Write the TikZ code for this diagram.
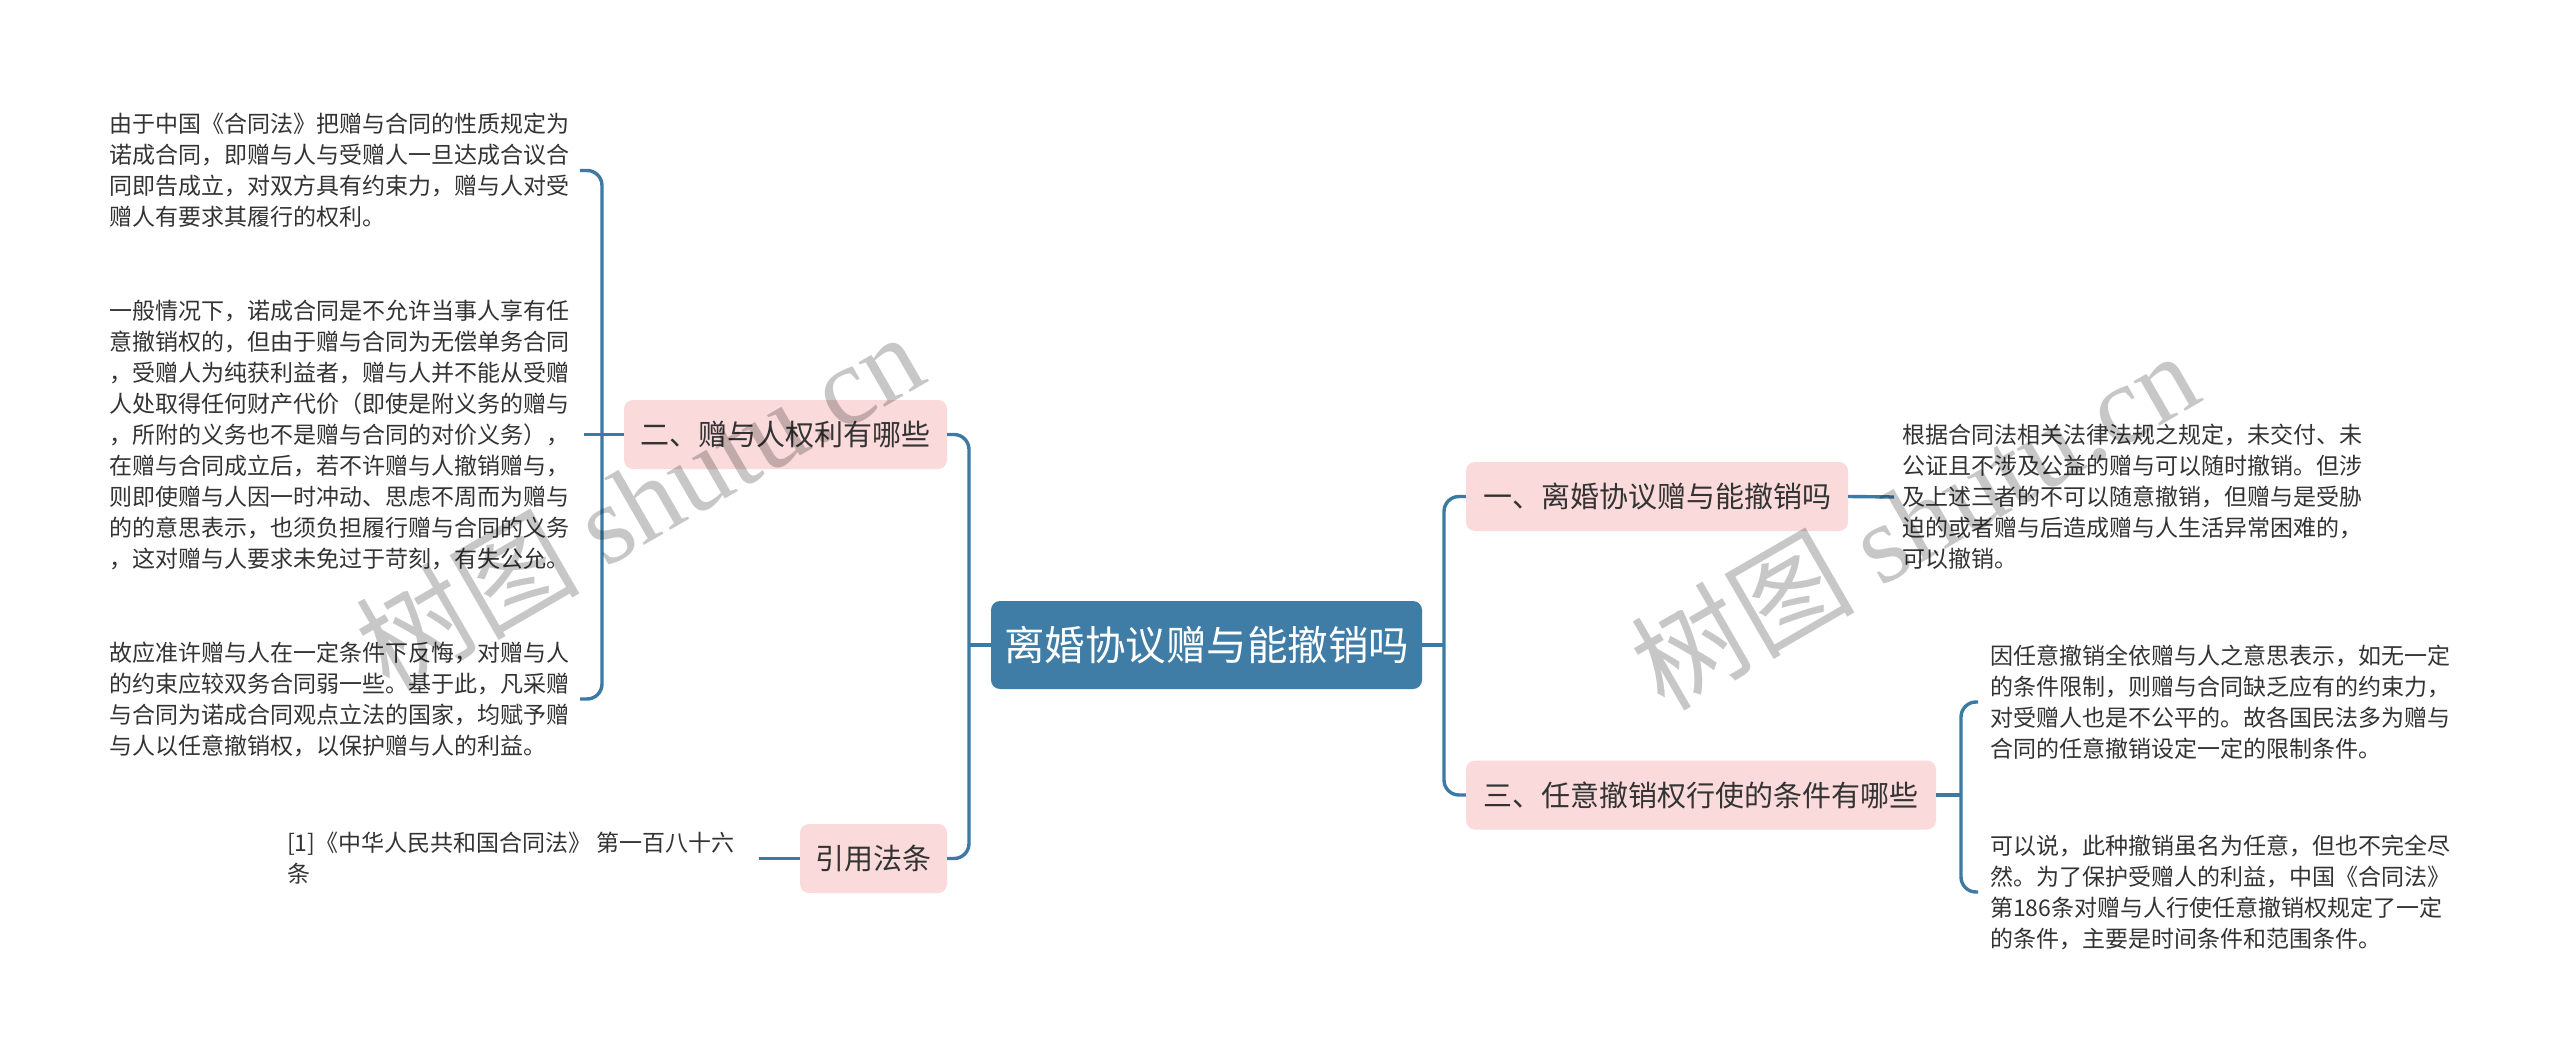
\documentclass[tikz,border=0pt]{standalone}
\usepackage{fontspec}
\setmainfont{Noto Sans CJK SC}
\newfontfamily\wmserif{Liberation Serif}
\definecolor{connc}{HTML}{3C7AA3}
\definecolor{rootc}{HTML}{3F7DA6}
\definecolor{branchc}{HTML}{FADADA}
\definecolor{txtc}{HTML}{333333}
\begin{document}
\begin{tikzpicture}[x=1pt,y=-1pt,
  rootbox/.style={fill=rootc, rounded corners=9pt, text=white, minimum height=88pt, minimum width=431pt, inner xsep=8pt, inner ysep=0pt, font=\fontsize{40.5}{48}\selectfont},
  branchbox/.style={fill=branchc, rounded corners=9pt, text=txtc, minimum height=69pt, inner xsep=10pt, inner ysep=0pt, font=\fontsize{29}{34}\selectfont},
  leaftext/.style={text=txtc, align=left, inner sep=0pt, anchor=west, font=\fontsize{23}{31}\selectfont},
  conn/.style={draw=connc, line width=3.4pt, rounded corners=15pt},
  wm/.style={text=black, text opacity=0.22, inner sep=0pt, font=\fontsize{112}{120}\selectfont}
]
\useasboundingbox[fill=white] (0,0) rectangle (2560,1059);

% central
\node[rootbox] (c) at (1206.5,645) {离婚协议赠与能撤销吗};

% branches
\node[branchbox, minimum width=323pt] (b2) at (785.5,434.5) {二、赠与人权利有哪些};
\node[branchbox, minimum width=147pt] (ref) at (873.5,858.5) {引用法条};
\node[branchbox, minimum width=382pt] (b1) at (1657,496.5) {一、离婚协议赠与能撤销吗};
\node[branchbox, minimum width=470pt] (b3) at (1701,795) {三、任意撤销权行使的条件有哪些};

% left leaves
\node[leaftext] (l1) at (109,170.5) {由于中国《合同法》把赠与合同的性质规定为\\诺成合同，即赠与人与受赠人一旦达成合议合\\同即告成立，对双方具有约束力，赠与人对受\\赠人有要求其履行的权利。};
\node[leaftext] (l2) at (109,434.5) {一般情况下，诺成合同是不允许当事人享有任\\意撤销权的，但由于赠与合同为无偿单务合同\\，受赠人为纯获利益者，赠与人并不能从受赠\\人处取得任何财产代价（即使是附义务的赠与\\，所附的义务也不是赠与合同的对价义务），\\在赠与合同成立后，若不许赠与人撤销赠与，\\则即使赠与人因一时冲动、思虑不周而为赠与\\的的意思表示，也须负担履行赠与合同的义务\\，这对赠与人要求未免过于苛刻，有失公允。};
\node[leaftext] (l3) at (109,699) {故应准许赠与人在一定条件下反悔，对赠与人\\的约束应较双务合同弱一些。基于此，凡采赠\\与合同为诺成合同观点立法的国家，均赋予赠\\与人以任意撤销权，以保护赠与人的利益。};
\node[leaftext] (lr) at (287,858.5) {[1]《中华人民共和国合同法》 第一百八十六\\条};

% right leaves
\node[leaftext] (t1) at (1902,497) {根据合同法相关法律法规之规定，未交付、未\\公证且不涉及公益的赠与可以随时撤销。但涉\\及上述三者的不可以随意撤销，但赠与是受胁\\迫的或者赠与后造成赠与人生活异常困难的，\\可以撤销。};
\node[leaftext] (t3a) at (1990,702) {因任意撤销全依赠与人之意思表示，如无一定\\的条件限制，则赠与合同缺乏应有的约束力，\\对受赠人也是不公平的。故各国民法多为赠与\\合同的任意撤销设定一定的限制条件。};
\node[leaftext] (t3b) at (1990,892) {可以说，此种撤销虽名为任意，但也不完全尽\\然。为了保护受赠人的利益，中国《合同法》\\第186条对赠与人行使任意撤销权规定了一定\\的条件，主要是时间条件和范围条件。};

% junction coordinates
\coordinate (lj) at (969,645);
\coordinate (rj) at (1444,645);
\coordinate (bj) at (602,434.5);
\coordinate (tj) at (1961,795);
\coordinate (e1) at (580,170.5);
\coordinate (e2) at (584,434.5);
\coordinate (e3) at (580,699);
\coordinate (er) at (759,858.5);
\coordinate (f1) at (1894,497);
\coordinate (f3a) at (1978,702);
\coordinate (f3b) at (1978,892);

% connectors
\draw[conn] (b2.east) -| (lj) |- (ref.east);
\draw[conn] (c.west) -- (lj);
\draw[conn] (b1.west) -| (rj) |- (b3.west);
\draw[conn] (c.east) -- (rj);
\draw[conn] (e1) -| (bj) |- (e3);
\draw[conn] (b2.west) -- (e2);
\draw[conn] (ref.west) -- (er);
\draw[conn] (b1.east) -- (f1);
\draw[conn] (f3a) -| (tj) |- (f3b);
\draw[conn] (b3.east) -- (tj);

% watermarks
\node[wm, rotate=30] (w1) at (639,500) {树图 {\wmserif shutu.cn}};
\node[wm, rotate=30] (w2) at (1914,519) {树图 {\wmserif shutu.cn}};
\end{tikzpicture}
\end{document}
